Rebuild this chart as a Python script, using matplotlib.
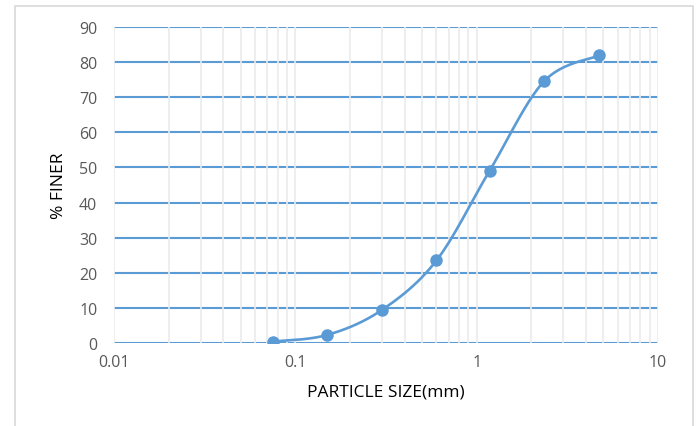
import numpy as np
import matplotlib.pyplot as plt
from matplotlib.patches import Rectangle
from matplotlib.ticker import LogLocator, FuncFormatter

# sieve analysis values
particle_size = [0.075, 0.15, 0.3, 0.6, 1.18, 2.36, 4.75]
percent_finer = [0.4, 2.3, 9.4, 23.5, 49.1, 74.6, 81.9]
x_ticks = [0.01, 0.1, 1, 10]
x_tick_labels = ['0.01', '0.1', '1', '10']
y_ticks = [0, 10, 20, 30, 40, 50, 60, 70, 80, 90]

blue = '#5B9BD5'
plt.rcParams['font.family'] = ['Open Sans', 'DejaVu Sans']


def excel_smooth(xs, ys, n=40):
    # bezier smoothing between points, done in log-x space like Excel
    px = np.log10(xs)
    py = np.array(ys, dtype=float)
    ox, oy = [], []
    m = len(px)
    for i in range(m - 1):
        p0 = np.array([px[i], py[i]])
        p3 = np.array([px[i + 1], py[i + 1]])
        prev = np.array([px[max(i - 1, 0)], py[max(i - 1, 0)]])
        nxt = np.array([px[min(i + 2, m - 1)], py[min(i + 2, m - 1)]])
        c1 = p0 + (p3 - prev) / 6
        c2 = p3 - (nxt - p0) / 6
        t = np.linspace(0, 1, n)[:, None]
        pts = ((1 - t) ** 3) * p0 + 3 * ((1 - t) ** 2) * t * c1 + 3 * (1 - t) * t ** 2 * c2 + t ** 3 * p3
        ox.extend(pts[:, 0])
        oy.extend(pts[:, 1])
    return 10 ** np.array(ox), np.array(oy)


fig = plt.figure(figsize=(6.96, 4.27), dpi=100)
ax = fig.add_axes([114 / 696, 1 - 344 / 427, 544 / 696, 316 / 427])

sx, sy = excel_smooth(particle_size, percent_finer)
ax.plot(sx, sy, color=blue, lw=1.9, zorder=3, solid_capstyle='round')
ax.plot(particle_size, percent_finer, 'o', color=blue, ms=8, zorder=4)

ax.set_xscale('log')
ax.set_xlim(0.01, 10)
ax.set_ylim(0, 90)
ax.set_xticks(x_ticks)
ax.set_xticklabels(x_tick_labels)
ax.xaxis.set_minor_locator(LogLocator(base=10, subs=np.arange(2, 10)))
ax.xaxis.set_minor_formatter(FuncFormatter(lambda v, p: ''))
ax.set_yticks(y_ticks)

ax.set_axisbelow(True)
ax.grid(True, axis='y', color=blue, lw=1.5)
ax.grid(True, axis='x', which='both', color='#EBEBEB', lw=1.2)
ax.xaxis.set_zorder(0.6)

for s in ax.spines.values():
    s.set_visible(False)
ax.tick_params(axis='both', which='both', length=0, colors='#595959', labelsize=11.5)
ax.tick_params(axis='x', pad=8)
ax.tick_params(axis='y', pad=12)

ax.set_xlabel('PARTICLE SIZE(mm)', fontsize=12.5, color='black', labelpad=10)
ax.set_ylabel('% FINER', fontsize=12.5, color='black', labelpad=9)

fig.patches.append(Rectangle((15 / 696, -0.05), 678 / 696, 1 + 0.05 - 7 / 427,
                             transform=fig.transFigure, fill=False,
                             edgecolor='#D9D9D9', lw=1.2))

fig.savefig('out.png', dpi=100)
